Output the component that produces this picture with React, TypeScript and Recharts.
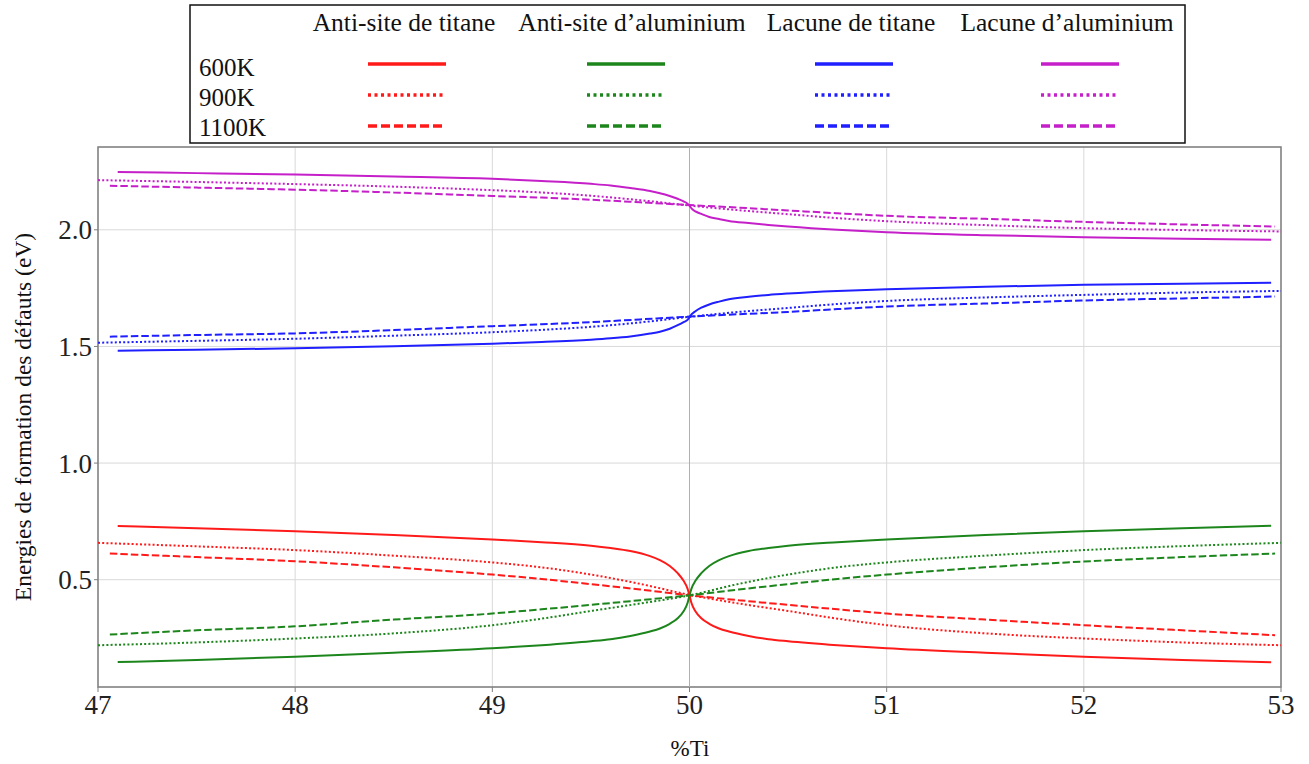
import React from "react";
import {
  LineChart,
  Line,
  XAxis,
  YAxis,
  CartesianGrid,
  ReferenceLine,
  ReferenceArea,
} from "recharts";

// ---- x positions (%Ti) ----
const xSolid = [47.1, 47.5, 48, 48.5, 49, 49.25, 49.5, 49.6, 49.7, 49.8, 49.85, 49.9, 49.94, 49.97, 49.99, 50,
  50.01, 50.03, 50.06, 50.1, 50.15, 50.2, 50.3, 50.4, 50.5, 50.75, 51, 51.5, 52, 52.5, 52.95];
const xDotted = [47.0, 47.5, 48, 48.5, 49, 49.25, 49.5, 49.75, 50, 50.25, 50.5, 50.75, 51, 51.5, 52, 52.5, 53];
const xDashed = [47.06, 47.5, 48, 48.5, 49, 49.25, 49.5, 49.75, 50, 50.25, 50.5, 50.75, 51, 51.5, 52, 52.5, 52.97];

// ---- 600K (solid) ----
const antiTi600 = [0.730, 0.721, 0.708, 0.692, 0.672, 0.661, 0.646, 0.636, 0.623, 0.601, 0.584, 0.559, 0.528, 0.495, 0.462, 0.433,
  0.400, 0.365, 0.335, 0.311, 0.291, 0.278, 0.259, 0.245, 0.236, 0.219, 0.206, 0.187, 0.170, 0.156, 0.146];
const antiAl600 = [0.147, 0.156, 0.170, 0.187, 0.206, 0.219, 0.236, 0.245, 0.259, 0.278, 0.291, 0.311, 0.335, 0.365, 0.400, 0.433,
  0.462, 0.495, 0.528, 0.559, 0.584, 0.601, 0.623, 0.636, 0.646, 0.661, 0.672, 0.692, 0.708, 0.721, 0.731];
const lacTi600 = [1.482, 1.486, 1.492, 1.501, 1.512, 1.519, 1.529, 1.535, 1.543, 1.555, 1.563, 1.576, 1.591, 1.604, 1.614, 1.625,
  1.637, 1.651, 1.666, 1.680, 1.692, 1.702, 1.713, 1.721, 1.727, 1.738, 1.745, 1.756, 1.764, 1.769, 1.773];
const lacAl600 = [2.248, 2.243, 2.237, 2.229, 2.219, 2.209, 2.197, 2.190, 2.179, 2.166, 2.157, 2.145, 2.133, 2.122, 2.112, 2.103,
  2.092, 2.079, 2.068, 2.055, 2.046, 2.038, 2.029, 2.021, 2.014, 2.000, 1.990, 1.977, 1.968, 1.962, 1.957];

// ---- 900K (dotted) ----
const antiTi900 = [0.658, 0.643, 0.627, 0.603, 0.574, 0.553, 0.522, 0.482, 0.435, 0.398, 0.366, 0.333, 0.305, 0.270, 0.248, 0.231, 0.219];
const antiAl900 = [0.219, 0.231, 0.248, 0.270, 0.305, 0.333, 0.366, 0.398, 0.433, 0.482, 0.522, 0.553, 0.574, 0.603, 0.627, 0.644, 0.658];
const lacTi900 = [1.516, 1.524, 1.533, 1.546, 1.561, 1.571, 1.584, 1.603, 1.627, 1.648, 1.665, 1.682, 1.695, 1.710, 1.721, 1.731, 1.738];
const lacAl900 = [2.213, 2.205, 2.196, 2.185, 2.170, 2.160, 2.146, 2.127, 2.104, 2.084, 2.067, 2.050, 2.037, 2.020, 2.007, 1.999, 1.993];

// ---- 1100K (dashed) ----
const antiTi1100 = [0.612, 0.597, 0.579, 0.553, 0.522, 0.503, 0.481, 0.458, 0.433, 0.412, 0.392, 0.373, 0.355, 0.329, 0.305, 0.283, 0.262];
const antiAl1100 = [0.265, 0.283, 0.300, 0.329, 0.355, 0.373, 0.392, 0.412, 0.433, 0.458, 0.481, 0.503, 0.522, 0.553, 0.578, 0.597, 0.612];
const lacTi1100 = [1.542, 1.549, 1.556, 1.570, 1.587, 1.595, 1.604, 1.616, 1.628, 1.638, 1.648, 1.660, 1.671, 1.684, 1.697, 1.706, 1.714];
const lacAl1100 = [2.189, 2.181, 2.172, 2.160, 2.145, 2.138, 2.129, 2.118, 2.106, 2.095, 2.083, 2.071, 2.060, 2.047, 2.034, 2.023, 2.014];

// ---- labels ----
const defectNames = ["Anti-site de titane", "Anti-site d\u2019aluminium", "Lacune de titane", "Lacune d\u2019aluminium"];
const temperatures = ["600K", "900K", "1100K"];
const colors = ["#ff1a1a", "#1c861c", "#1f1fff", "#c51fc9"];
const xTicks = [47, 48, 49, 50, 51, 52, 53];
const yTicks = [0.5, 1.0, 1.5, 2.0];

const dashes = ["", "2 2.2", "7.5 3"];
const legendDashes = ["", "3 3.5", "9 4"];

const build = (xs: number[], ys: number[]) => xs.map((x, i) => ({ x, y: ys[i] }));

const seriesByTemp = [
  { xs: xSolid, ys: [antiTi600, antiAl600, lacTi600, lacAl600] },
  { xs: xDotted, ys: [antiTi900, antiAl900, lacTi900, lacAl900] },
  { xs: xDashed, ys: [antiTi1100, antiAl1100, lacTi1100, lacAl1100] },
];

const FONT = "'Liberation Serif', 'Times New Roman', serif";

const headerCenters = [404, 632, 851, 1067];
const lineCenters = [407, 626, 854, 1080];
const rowLineY = [64, 95, 126];
const rowTextY = [76, 106, 136];

export default function App() {
  return (
    <div style={{ position: "absolute", left: 0, top: 0, width: 1309, height: 764, background: "#fff", fontFamily: FONT }}>
      <LineChart width={1309} height={764} margin={{ top: 147, right: 28, bottom: 37, left: 38 }}>
        <CartesianGrid stroke="#d9d9d9" strokeWidth={1} />
        <XAxis
          dataKey="x"
          type="number"
          domain={[47, 53]}
          ticks={xTicks}
          allowDataOverflow
          height={40}
          tickSize={5}
          tickMargin={3}
          stroke="#7f7f7f"
          axisLine={false}
          tick={{ fontFamily: FONT, fontSize: 27, fill: "#222" }}
        />
        <YAxis
          type="number"
          domain={[0.04, 2.355]}
          ticks={yTicks}
          allowDataOverflow
          width={60}
          tickSize={4}
          tickMargin={2}
          stroke="#7f7f7f"
          axisLine={false}
          tickFormatter={(v: number) => v.toFixed(1)}
          tick={{ fontFamily: FONT, fontSize: 27, fill: "#222" }}
        />
        <ReferenceLine x={50} stroke="#b0b0b0" strokeWidth={1} />
        {seriesByTemp.map((s, ti) =>
          s.ys.map((ys, di) => (
            <Line
              key={`${ti}-${di}`}
              data={build(s.xs, ys)}
              dataKey="y"
              type="monotone"
              stroke={colors[di]}
              strokeWidth={2}
              strokeDasharray={dashes[ti] || undefined}
              dot={false}
              activeDot={false}
              isAnimationActive={false}
            />
          ))
        )}
        <ReferenceArea
          x1={47}
          x2={53}
          y1={0.04}
          y2={2.355}
          fill="none"
          stroke="#7f7f7f"
          strokeWidth={1.5}
          ifOverflow="visible"
        />
      </LineChart>
      <svg
        width={1309}
        height={764}
        style={{ position: "absolute", left: 0, top: 0, pointerEvents: "none" }}
      >
        <rect x={190} y={5} width={995} height={138} fill="#fff" stroke="#111" strokeWidth={1.5} />
        {defectNames.map((n, i) => (
          <text key={n} x={headerCenters[i]} y={31} textAnchor="middle" fontFamily={FONT} fontSize={25.5} fill="#111">
            {n}
          </text>
        ))}
        {temperatures.map((t, ti) => (
          <g key={t}>
            <text x={199} y={rowTextY[ti]} fontFamily={FONT} fontSize={25} fill="#111">
              {t}
            </text>
            {colors.map((c, di) => (
              <line
                key={c}
                x1={lineCenters[di] - 39}
                x2={lineCenters[di] + 39}
                y1={rowLineY[ti]}
                y2={rowLineY[ti]}
                stroke={c}
                strokeWidth={3.5}
                strokeDasharray={legendDashes[ti] || undefined}
              />
            ))}
          </g>
        ))}
        <text
          transform="translate(31,417) rotate(-90)"
          textAnchor="middle"
          fontFamily={FONT}
          fontSize={23.5}
          fill="#111"
        >
          Energies de formation des défauts (eV)
        </text>
        <text x={690} y={756} textAnchor="middle" fontFamily={FONT} fontSize={23} fill="#111">
          %Ti
        </text>
      </svg>
    </div>
  );
}
